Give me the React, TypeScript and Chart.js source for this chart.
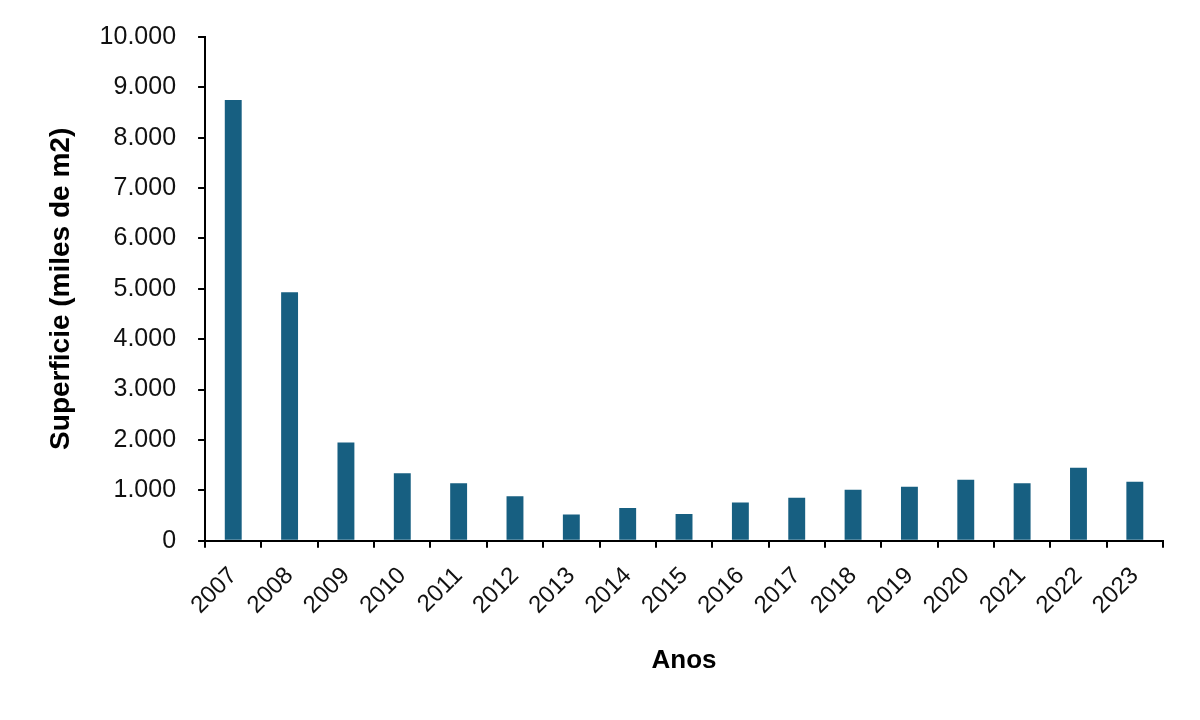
import React, { useEffect, useRef } from "react";
import { Chart, registerables } from "chart.js";

Chart.register(...registerables);

const years = ["2007","2008","2009","2010","2011","2012","2013","2014","2015","2016","2017","2018","2019","2020","2021","2022","2023"];
const superficie = [8750, 4930, 1950, 1340, 1140, 880, 520, 650, 530, 760, 850, 1010, 1070, 1210, 1140, 1450, 1170];
const yTitle = "Superficie (miles de m2)";
const xTitle = "Anos";

const FONT = "'Liberation Sans', Arial, sans-serif";

export default function App() {
  const ref = useRef<HTMLCanvasElement | null>(null);
  useEffect(() => {
    if (!ref.current) return;
    const chart = new Chart(ref.current, {
      type: "bar",
      data: {
        labels: years,
        datasets: [{
          data: superficie,
          backgroundColor: "#175f81",
          borderWidth: 0,
          barPercentage: 0.3,
          categoryPercentage: 1,
        }],
      },
      options: {
        animation: false,
        responsive: true,
        maintainAspectRatio: false,
        layout: { padding: { left: 44, top: 37, right: 37, bottom: 40 } },
        plugins: { legend: { display: false }, tooltip: { enabled: false } },
        scales: {
          x: {
            grid: { drawOnChartArea: false, drawTicks: true, tickLength: 7, color: "#000", lineWidth: 2, offset: true },
            border: { color: "#000", width: 2 },
            ticks: { color: "#111", font: { family: FONT, size: 24 }, maxRotation: 45, minRotation: 45, padding: 14 },
            title: { display: true, text: xTitle, color: "#000", font: { family: FONT, size: 26, weight: "bold" }, padding: { top: 11 } },
          },
          y: {
            min: 0, max: 10000,
            grid: { drawOnChartArea: false, drawTicks: true, tickLength: 7, color: "#000", lineWidth: 2 },
            border: { color: "#000", width: 2 },
            ticks: {
              stepSize: 1000,
              color: "#111",
              font: { family: FONT, size: 25 },
              padding: 22,
              callback: (v: any) => Number(v) === 0 ? "0" : Number(v).toLocaleString("de-DE"),
            },
            title: { display: true, text: yTitle, color: "#000", font: { family: FONT, size: 28, weight: "bold" }, padding: { top: 0, bottom: 0 } },
          },
        },
      },
    });
    return () => chart.destroy();
  }, []);
  return (
    <div style={{ position: "fixed", left: 0, top: 0, width: 1200, height: 720, background: "#fff" }}>
      <canvas ref={ref} />
    </div>
  );
}
